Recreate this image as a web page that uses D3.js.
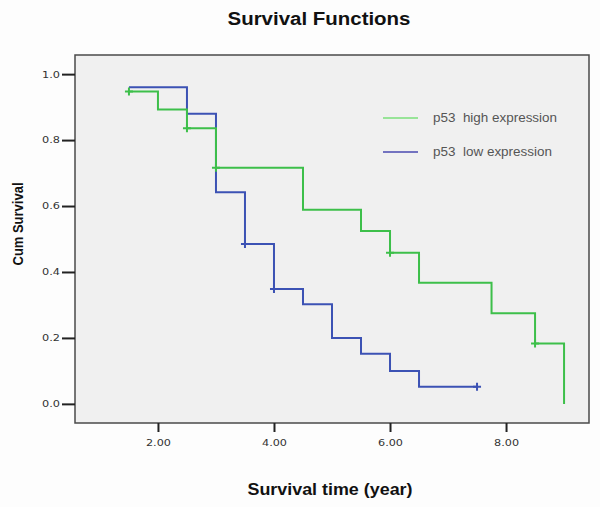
<!DOCTYPE html>
<html><head><meta charset="utf-8">
<script src="https://cdn.jsdelivr.net/npm/d3@7/dist/d3.min.js"></script>
<style>body{margin:0;background:#fdfdfd;font-family:"Liberation Sans",Arial,sans-serif;}</style>
</head><body><svg id="c" width="600" height="507"></svg>
<script>
// High expression KM steps: [time, survival after event]
const highTimes = [1.5, 2.0, 2.5, 3.0, 4.5, 5.5, 6.0, 6.5, 7.75, 8.5, 9.0];
const highSurv  = [0.947, 0.893, 0.836, 0.716, 0.589, 0.524, 0.458, 0.367, 0.275, 0.183, 0.0];
const highCensT = [1.5, 2.5, 3.0, 6.0, 8.5];
const highCensS = [0.947, 0.836, 0.716, 0.458, 0.183];
const lowTimes  = [1.5, 2.5, 3.0, 3.5, 4.0, 4.5, 5.0, 5.5, 6.0, 6.5, 7.5];
const lowSurv   = [0.96, 0.88, 0.642, 0.485, 0.348, 0.302, 0.20, 0.152, 0.10, 0.052, 0.052];
const lowCensT  = [3.5, 4.0, 7.5];
const lowCensS  = [0.485, 0.348, 0.052];
const xTicks = [2, 4, 6, 8];
const yTicks = [0, 0.2, 0.4, 0.6, 0.8, 1.0];
const seriesNames = ["p53  high expression", "p53  low expression"];
const colors = ["#3dbf4a", "#3c52b4"];
const legendColors = ["#7be07b", "#4a4ab0"];

const svg = d3.select("#c");
const L = 75, R = 589, T = 55, B = 423;
const x = d3.scaleLinear().domain([0.57, 9.43]).range([L, R]);
const y = d3.scaleLinear().domain([-0.058, 1.058]).range([B, T]);

svg.append("rect").attr("x", L).attr("y", T).attr("width", R - L).attr("height", B - T)
  .attr("fill", "#f0f0f0").attr("stroke", "#4a4a4a").attr("stroke-width", 1.5);

// axes
const yAx = svg.append("g").attr("transform", `translate(${L},0)`)
  .call(d3.axisLeft(y).tickValues(yTicks).tickFormat(d3.format(".1f")).tickSize(13).tickPadding(2));
const xAx = svg.append("g").attr("transform", `translate(0,${B})`)
  .call(d3.axisBottom(x).tickValues(xTicks).tickFormat(d3.format(".2f")).tickSize(9).tickPadding(7));
[yAx, xAx].forEach(g => {
  g.select(".domain").remove();
  g.selectAll("line").attr("stroke", "#222").attr("stroke-width", 2);
  g.selectAll("text").attr("font-size", 9).attr("fill", "#333").attr("font-family", "DejaVu Sans, sans-serif");
});
xAx.selectAll("text").attr("font-size", 9.5).attr("textLength", 25).attr("lengthAdjust", "spacingAndGlyphs");
yAx.selectAll("text").attr("textLength", 18).attr("lengthAdjust", "spacingAndGlyphs");

function stepPath(times, surv) {
  const pts = [[times[0], surv[0]]];
  for (let i = 1; i < times.length; i++) {
    pts.push([times[i], surv[i - 1]]);
    pts.push([times[i], surv[i]]);
  }
  return d3.line().x(d => x(d[0])).y(d => y(d[1]))(pts);
}
const series = [
  {t: highTimes, s: highSurv, ct: highCensT, cs: highCensS, c: colors[0]},
  {t: lowTimes, s: lowSurv, ct: lowCensT, cs: lowCensS, c: colors[1]}
];
[series[1], series[0]].forEach(sr => {
  svg.append("path").attr("d", stepPath(sr.t, sr.s)).attr("fill", "none")
    .attr("stroke", sr.c).attr("stroke-width", 2);
  sr.ct.forEach((t, i) => {
    const cx = x(t), cy = y(sr.cs[i]);
    svg.append("path").attr("d", `M${cx-4},${cy}H${cx+4}M${cx},${cy-4}V${cy+4}`)
      .attr("stroke", sr.c).attr("stroke-width", 2);
  });
});

// legend
const legendLens = [124, 119];
seriesNames.forEach((n, i) => {
  const ly = 118 + i * 34;
  svg.append("line").attr("x1", 383).attr("x2", 418).attr("y1", ly).attr("y2", ly)
    .attr("stroke", legendColors[i]).attr("stroke-width", 1.5);
  svg.append("text").attr("x", 433).attr("y", ly + 4).text(n)
    .attr("font-size", 12).attr("fill", "#555").style("white-space", "pre")
    .attr("textLength", legendLens[i]).attr("lengthAdjust", "spacingAndGlyphs");
});

svg.append("text").attr("x", 319).attr("y", 25).attr("text-anchor", "middle")
  .attr("font-size", 18).attr("font-weight", "bold").attr("fill", "#111")
  .attr("textLength", 183).attr("lengthAdjust", "spacingAndGlyphs").text("Survival Functions");
svg.append("text").attr("x", 330).attr("y", 495).attr("text-anchor", "middle")
  .attr("font-size", 17).attr("font-weight", "bold").attr("fill", "#111")
  .attr("textLength", 165).attr("lengthAdjust", "spacingAndGlyphs").text("Survival time (year)");
svg.append("text").attr("transform", "translate(23,224) rotate(-90)").attr("text-anchor", "middle")
  .attr("font-size", 14).attr("font-weight", "bold").attr("fill", "#111")
  .attr("textLength", 83).attr("lengthAdjust", "spacingAndGlyphs").text("Cum Survival");
</script></body></html>
